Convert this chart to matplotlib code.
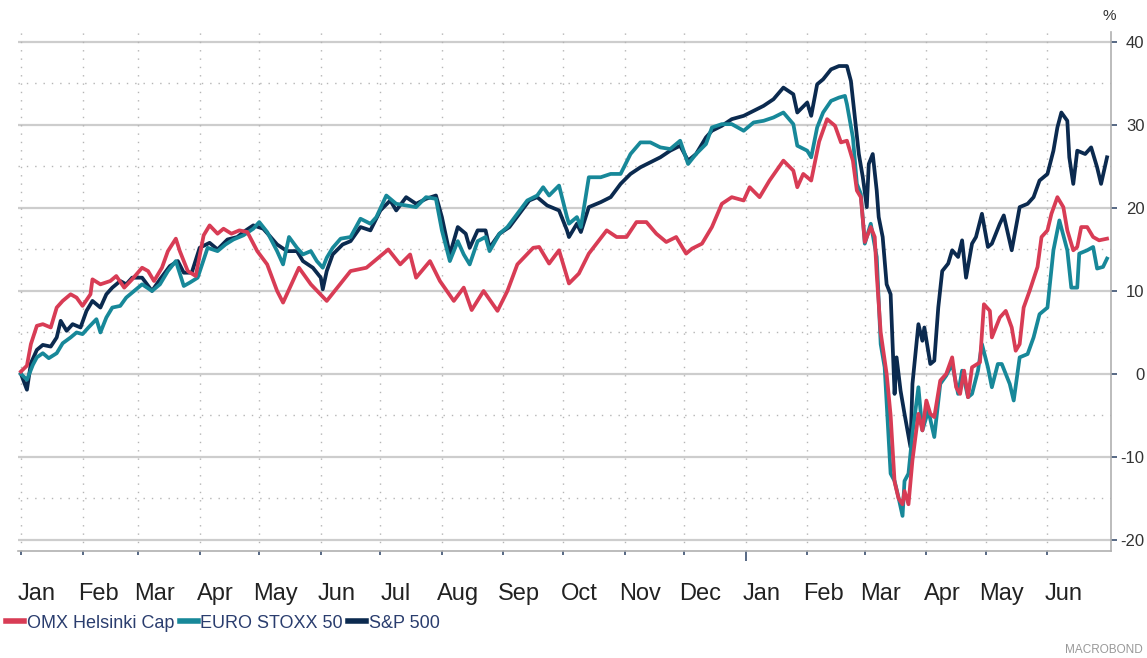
import pandas as pd
import matplotlib
matplotlib.use('Agg')
import matplotlib.pyplot as plt

plt.rcParams['font.family'] = ['Liberation Sans', 'DejaVu Sans']
plt.rcParams['axes.unicode_minus'] = False

# Cumulative change since start of 2019, %; x = days since 2019-01-01
start = pd.Timestamp('2019-01-01')

omx_days = [0, 3, 5, 8, 11, 15, 18, 21, 25, 28, 31, 35, 36, 40, 45, 48, 52, 56, 61, 64,
            67, 71, 74, 78, 80, 84, 88, 92, 95, 99, 102, 106, 110, 114, 119, 124, 129, 132, 140, 146,
            154, 166, 174, 185, 191, 196, 199, 206, 211, 218, 223, 227, 233, 240, 245, 250, 258, 261, 266, 271,
            276, 281, 286, 295, 300, 305, 310, 315, 320, 325, 330, 335, 338, 343, 348, 353, 358, 364, 367, 372,
            377, 384, 389, 391, 394, 398, 402, 406, 410, 413, 416, 419, 421, 423, 425, 428, 430, 431, 433, 436,
            438, 440, 442, 444, 445, 447, 449, 452, 454, 456, 458, 460, 463, 466, 469, 471, 473, 475, 477, 479,
            483, 485, 488, 489, 493, 496, 499, 501, 503, 505, 508, 512, 514, 517, 519, 522, 525, 527, 530, 532,
            534, 537, 540, 543, 547]
omx_vals = [0.3, 1.0, 3.6, 5.8, 6.0, 5.6, 8.0, 8.8, 9.6, 9.2, 8.2, 9.6, 11.4, 10.8, 11.2, 11.8, 10.4, 11.4, 12.8, 12.4,
            11.2, 12.8, 14.8, 16.3, 14.8, 12.4, 11.8, 16.7, 17.9, 16.9, 17.5, 16.9, 17.3, 17.1, 14.8, 13.2, 10.0, 8.6, 12.8, 10.8,
            8.8, 12.4, 12.8, 15.0, 13.2, 14.4, 11.6, 13.6, 11.2, 8.8, 10.4, 7.7, 10.0, 7.6, 10.0, 13.2, 15.2, 15.3, 13.3, 14.9,
            10.9, 12.1, 14.5, 17.3, 16.5, 16.5, 18.3, 18.3, 16.9, 15.9, 16.5, 14.5, 15.1, 15.7, 17.7, 20.5, 21.3, 20.9, 22.5, 21.3,
            23.3, 25.7, 24.5, 22.5, 24.1, 23.3, 28.0, 30.7, 29.9, 27.9, 28.1, 25.7, 22.1, 21.3, 15.9, 17.7, 16.5, 12.0, 5.0, 0.0,
            -5.0, -13.0, -15.0, -15.7, -14.1, -15.7, -10.4, -4.8, -6.8, -3.2, -4.8, -5.2, -0.8, 0.0, 2.0, -1.6, -2.4, 0.4, -2.8, 0.8,
            1.4, 8.4, 7.6, 4.4, 6.8, 7.6, 5.6, 2.8, 3.6, 8.0, 10.0, 12.9, 16.5, 17.3, 19.3, 21.3, 20.1, 17.3, 14.9, 15.3,
            17.7, 17.7, 16.5, 16.1, 16.3]

stoxx_days = [0, 3, 6, 8, 11, 14, 18, 21, 25, 28, 31, 34, 38, 40, 43, 46, 50, 53, 56, 61,
              66, 70, 74, 78, 82, 85, 89, 94, 99, 103, 107, 112, 117, 120, 124, 129, 132, 135, 139, 142,
              146, 149, 152, 154, 157, 161, 166, 171, 176, 179, 184, 189, 194, 199, 204, 209, 212, 216, 220, 223,
              226, 230, 234, 236, 241, 245, 250, 255, 260, 263, 266, 271, 275, 276, 280, 282, 286, 292, 297, 302,
              307, 312, 317, 322, 327, 332, 336, 340, 345, 348, 353, 358, 364, 369, 374, 379, 384, 389, 391, 396,
              398, 401, 404, 408, 412, 415, 416, 419, 421, 423, 425, 428, 431, 433, 435, 438, 440, 442, 444, 445,
              447, 449, 452, 454, 457, 460, 463, 466, 469, 472, 474, 477, 479, 482, 484, 487, 489, 492, 494, 498,
              500, 503, 507, 510, 513, 517, 520, 523, 527, 529, 532, 533, 537, 540, 542, 545, 547]
stoxx_vals = [0.0, -0.7, 1.1, 2.0, 2.5, 1.9, 2.5, 3.7, 4.4, 5.0, 4.8, 5.6, 6.6, 5.0, 6.8, 8.0, 8.2, 9.2, 9.8, 10.8,
              10.0, 10.8, 12.4, 13.6, 10.6, 11.0, 11.6, 15.2, 14.8, 15.6, 16.2, 16.7, 17.5, 18.3, 17.1, 14.8, 13.2, 16.5, 15.2, 14.4,
              14.8, 13.6, 12.8, 14.0, 15.2, 16.3, 16.5, 18.7, 18.1, 18.9, 21.5, 20.5, 20.3, 20.1, 21.3, 21.1, 17.3, 13.6, 16.0, 14.4,
              13.2, 16.0, 16.5, 14.8, 16.9, 17.7, 19.3, 20.9, 21.5, 22.5, 21.5, 22.7, 18.9, 18.1, 18.9, 17.7, 23.7, 23.7, 24.1, 24.1,
              26.5, 27.9, 27.9, 27.3, 27.1, 28.1, 25.3, 26.5, 27.7, 29.7, 30.1, 30.1, 29.3, 30.3, 30.5, 30.9, 31.5, 30.1, 27.5, 26.9,
              26.1, 29.7, 31.5, 32.9, 33.3, 33.5, 32.5, 28.5, 22.9, 21.7, 15.7, 18.1, 14.1, 3.6, 0.8, -12.0, -12.9, -14.9, -17.1, -12.9,
              -12.0, -7.2, -1.6, -6.8, -4.4, -7.6, -1.2, -0.2, 1.2, -2.4, 0.4, -2.8, -2.4, 0.4, 3.6, 0.8, -1.6, 1.2, 1.2, -1.2,
              -3.2, 2.0, 2.4, 4.4, 7.2, 8.0, 14.9, 18.5, 14.9, 10.4, 10.4, 14.5, 14.9, 15.3, 12.7, 12.9, 13.9]

spx_days = [0, 3, 5, 8, 11, 15, 18, 20, 23, 26, 30, 33, 36, 40, 43, 46, 50, 53, 56, 61,
            66, 70, 75, 79, 82, 86, 90, 95, 99, 104, 109, 112, 117, 122, 125, 129, 134, 139, 142, 147,
            151, 152, 154, 157, 162, 166, 171, 176, 181, 186, 189, 194, 199, 204, 209, 212, 216, 220, 224, 226,
            230, 234, 236, 241, 246, 251, 256, 260, 265, 271, 275, 276, 280, 282, 286, 292, 297, 302, 307, 312,
            317, 322, 327, 332, 336, 340, 345, 348, 353, 358, 364, 369, 374, 379, 384, 389, 391, 396, 398, 401,
            404, 408, 412, 416, 418, 420, 422, 424, 426, 427, 429, 431, 432, 434, 436, 438, 440, 441, 443, 445,
            448, 449, 452, 454, 455, 458, 460, 462, 464, 467, 469, 472, 474, 476, 479, 481, 484, 487, 489, 493,
            495, 499, 503, 507, 510, 513, 517, 520, 522, 524, 527, 528, 530, 532, 536, 539, 542, 544, 547]
spx_vals = [0.0, -1.9, 1.3, 2.9, 3.5, 3.3, 4.4, 6.4, 5.2, 6.0, 5.6, 7.6, 8.8, 8.0, 9.6, 10.4, 11.2, 10.8, 11.6, 11.6,
            10.0, 11.4, 13.0, 13.6, 12.2, 12.2, 15.2, 15.8, 15.0, 16.2, 16.5, 17.1, 17.9, 17.5, 16.7, 15.6, 14.8, 14.8, 13.6, 12.8,
            11.6, 10.2, 12.4, 14.4, 15.6, 16.0, 17.7, 17.3, 19.7, 20.9, 19.7, 21.3, 20.5, 21.1, 21.5, 18.9, 14.4, 17.7, 16.9, 15.2,
            17.3, 17.3, 15.2, 16.9, 17.7, 19.3, 20.9, 21.3, 20.3, 19.7, 17.3, 16.5, 18.1, 17.1, 20.1, 20.7, 21.3, 22.9, 24.1, 24.9,
            25.5, 26.1, 26.9, 27.5, 25.7, 26.5, 28.5, 29.3, 29.9, 30.7, 31.1, 31.7, 32.3, 33.1, 34.5, 33.7, 31.5, 32.7, 31.1, 34.9,
            35.5, 36.7, 37.1, 37.1, 35.3, 30.9, 26.5, 23.7, 20.1, 25.3, 26.5, 22.1, 18.9, 16.5, 10.8, 9.6, -2.4, 2.0, -2.0, -4.8,
            -8.8, -1.2, 6.0, 4.0, 5.6, 1.2, 1.6, 8.0, 12.4, 13.3, 14.9, 14.1, 16.1, 11.6, 15.7, 16.5, 19.3, 15.3, 15.7, 18.1,
            19.1, 14.9, 20.1, 20.5, 21.3, 23.3, 24.1, 26.9, 29.7, 31.5, 30.5, 26.1, 22.9, 26.9, 26.5, 27.3, 24.9, 22.9, 26.1]

series = [
    ('OMX Helsinki Cap', omx_days, omx_vals, '#d83c55'),
    ('EURO STOXX 50', stoxx_days, stoxx_vals, '#178899'),
    ('S&P 500', spx_days, spx_vals, '#0b2a4f'),
]
zorders = [5, 4, 3]

months = pd.date_range('2019-01-01', '2020-06-01', freq='MS')
month_days = (months - start).days
month_labels = months.strftime('%b')

W, H = 1147, 658
fig = plt.figure(figsize=(W / 100, H / 100), dpi=100)
ax = fig.add_axes([18 / W, 1 - 551 / H, (1111 - 18) / W, (551 - 32) / H])

# grid
for v in range(-20, 41, 10):
    ax.axhline(v, color='#cdcdcd', lw=1.6, zorder=1)
for v in range(-15, 40, 10):
    ax.axhline(v, color='#b5b5b5', lw=1.0, ls=(0, (1, 5)), zorder=1)
for d in month_days:
    ax.axvline(d, color='#b5b5b5', lw=1.0, ls=(0, (1, 5)), zorder=1)

for (name, days, vals, color), z in zip(series, zorders):
    ax.plot(days, vals, color=color, lw=2.7, label=name, zorder=z,
            solid_joinstyle='round')

ax.set_xlim(-1.5, 549)
ax.set_ylim(-21.33, 41.2)

for s in ['left', 'top']:
    ax.spines[s].set_visible(False)
ax.spines['bottom'].set_color('#b0b0b0')
ax.spines['right'].set_color('#b0b0b0')
ax.spines['bottom'].set_linewidth(1.2)
ax.spines['right'].set_linewidth(1.2)

# right axis, labels right-aligned near the picture edge
ax.yaxis.tick_right()
ax.set_yticks(range(-20, 41, 10))
ax.tick_params(axis='y', which='major', length=4, width=1.2, color='#3a4f70',
               labelsize=12, labelcolor='#333333', pad=20)
for lab in ax.get_yticklabels():
    lab.set_horizontalalignment('right')

# x axis: ticks at month starts, labels shifted into the month
ax.set_xticks(month_days)
ax.set_xticklabels([''] * len(month_days))
ax.tick_params(axis='x', which='major', length=3, width=1.2, color='#3a4f70')
ax.xaxis.get_major_ticks()[12].tick1line.set_markersize(7)
ax.set_xticks(month_days + 8, minor=True)
ax.set_xticklabels(month_labels, minor=True)
ax.tick_params(axis='x', which='minor', length=0, labelsize=17,
               labelcolor='#222222', pad=23)

fig.text(1109 / W, 1 - 16 / H, '%', fontsize=11, color='#333333',
         ha='center', va='center')

leg = fig.legend(loc='center left', bbox_to_anchor=(6 / W, 1 - 623 / H), ncol=3,
                 frameon=False, handlelength=1.0, handletextpad=0.15,
                 columnspacing=0.3, borderaxespad=0, borderpad=0,
                 fontsize=13, labelcolor='#2a3d6e')
for line in leg.get_lines():
    line.set_linewidth(4)

fig.text(1143 / W, 1 - 650 / H, 'MACROBOND', fontsize=8.5, color='#999999',
         ha='right', va='center')

fig.savefig('out.png', dpi=100)
